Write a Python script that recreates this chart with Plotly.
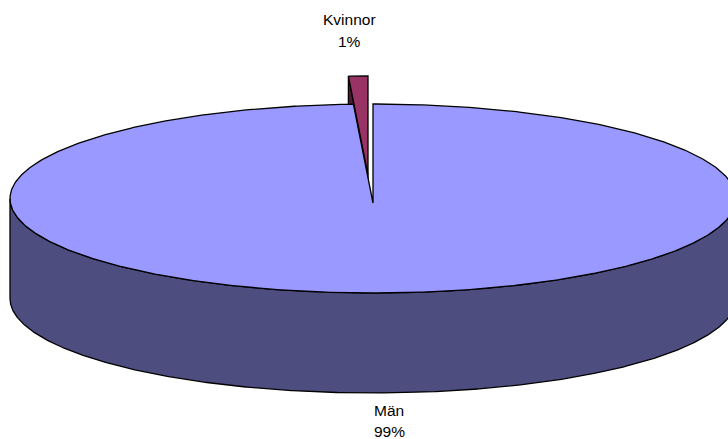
import numpy as np
import plotly.graph_objects as go

categories = ["Män", "Kvinnor"]
shares = [99.14, 0.86]
label_positions = [(389, 410, 431), (349, 19, 41)]
top_colors = ["#9999FF", "#993366"]
side_colors = ["#4D4D80", "#4D1A33"]

W, H = 728, 439
CX, CY, RX, RY, DEPTH = 373, 198.5, 363, 94.5, 100
APEX_DY = 4.5
EXPLODE = (-5, -28)
OUT = "#000000"


def rim(a0, a1, ox=0, oy=0, dz=0):
    t = np.radians(np.linspace(a0, a1, 721))
    return CX + ox + RX * np.sin(t), CY + oy + dz - RY * np.cos(t)


def poly(x, y, color, name):
    return go.Scatter(x=list(x), y=list(y), mode="lines", fill="toself", fillcolor=color,
                      line=dict(color=OUT, width=1.3), name=name, hoverinfo="name", showlegend=False)


main_sweep = 360 * shares[0] / sum(shares)
ox, oy = EXPLODE
fig = go.Figure()

# Kvinnor: radial wall then top face
ax, ay = CX + ox, CY + oy + APEX_DY
ex, ey = rim(main_sweep, main_sweep, ox, oy)
e0, e1 = ex[0], ey[0]
fig.add_trace(poly([e0, ax, ax, e0, e0], [e1, ay, ay + DEPTH, e1 + DEPTH, e1], side_colors[1], categories[1]))
kx, ky = rim(main_sweep, 360, ox, oy)
fig.add_trace(poly(np.r_[kx, ax, kx[0]], np.r_[ky, ay, ky[0]], top_colors[1], categories[1]))

# Män: front wall then top face
ux, uy = rim(90, 270)
lx, ly = rim(270, 90, dz=DEPTH)
fig.add_trace(poly(np.r_[ux, lx, ux[0]], np.r_[uy, ly, uy[0]], side_colors[0], categories[0]))
mx, my = rim(0, main_sweep)
fig.add_trace(poly(np.r_[CX, mx, CX], np.r_[CY + APEX_DY, my, CY + APEX_DY], top_colors[0], categories[0]))

anns = []
for name, share, (tx, y1, y2) in zip(categories, shares, label_positions):
    for txt, y in ((name, y1), (f"{round(share)}%", y2)):
        anns.append(dict(x=tx, y=y, text=txt, showarrow=False, xanchor="center", yanchor="middle",
                         font=dict(family="Liberation Sans", size=15.5, color="#000000")))

fig.update_layout(width=W, height=H, autosize=False, margin=dict(l=0, r=0, t=0, b=0),
                  paper_bgcolor="white", plot_bgcolor="white", showlegend=False, annotations=anns,
                  xaxis=dict(range=[0, W], visible=False, fixedrange=True),
                  yaxis=dict(range=[H, 0], visible=False, fixedrange=True))
fig.write_html("out.html", config={"displayModeBar": False},
               post_script="document.body.style.margin='0';document.body.style.overflow='hidden';")
